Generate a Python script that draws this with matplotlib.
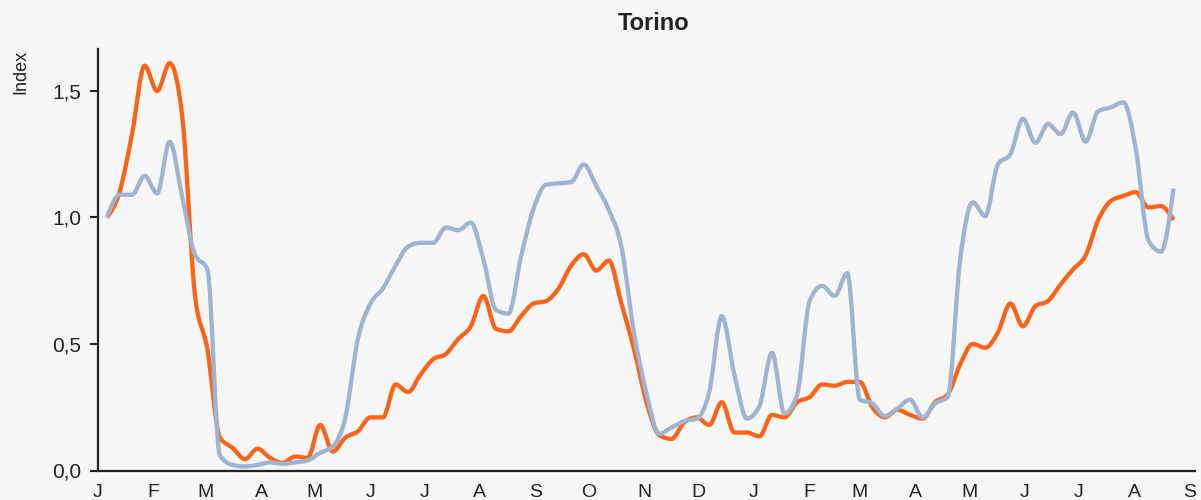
import matplotlib
matplotlib.use('Agg')
import matplotlib.pyplot as plt
import matplotlib.dates as mdates
from matplotlib.path import Path
from matplotlib.patches import PathPatch
import numpy as np
import pandas as pd

# Data (weekly index)
weeks = pd.date_range('2020-01-06', periods=86, freq='7D')

orange = [1.00, 1.10, 1.33, 1.60, 1.50, 1.61, 1.40, 0.70, 0.48, 0.13,
          0.09, 0.045, 0.086, 0.05, 0.03, 0.055, 0.05, 0.18, 0.075, 0.13,
          0.155, 0.21, 0.21, 0.34, 0.31, 0.38, 0.44, 0.46, 0.52, 0.57,
          0.69, 0.56, 0.55, 0.61, 0.66, 0.67, 0.72, 0.81, 0.855, 0.79,
          0.83, 0.66, 0.48, 0.27, 0.14, 0.125, 0.19, 0.21, 0.18, 0.27,
          0.15, 0.15, 0.135, 0.22, 0.21, 0.27, 0.29, 0.34, 0.335, 0.35,
          0.35, 0.25, 0.21, 0.24, 0.22, 0.205, 0.27, 0.30, 0.42, 0.50,
          0.485, 0.545, 0.66, 0.57, 0.65, 0.67, 0.735, 0.795, 0.85, 0.99,
          1.065, 1.085, 1.10, 1.04, 1.045, 0.99]

grey = [1.00, 1.09, 1.09, 1.165, 1.095, 1.30, 1.08, 0.855, 0.795, 0.06,
        0.022, 0.016, 0.022, 0.032, 0.026, 0.032, 0.04, 0.07, 0.095, 0.21,
        0.52, 0.66, 0.72, 0.81, 0.885, 0.90, 0.90, 0.96, 0.95, 0.98,
        0.835, 0.635, 0.62, 0.845, 1.035, 1.13, 1.135, 1.14, 1.21, 1.125,
        1.03, 0.885, 0.545, 0.305, 0.145, 0.17, 0.195, 0.205, 0.31, 0.61,
        0.38, 0.205, 0.255, 0.465, 0.225, 0.30, 0.67, 0.73, 0.69, 0.78,
        0.28, 0.265, 0.215, 0.245, 0.28, 0.21, 0.265, 0.29, 0.835, 1.06,
        1.005, 1.21, 1.25, 1.39, 1.295, 1.37, 1.33, 1.415, 1.30, 1.42,
        1.435, 1.455, 1.27, 0.91, 0.865, 1.115]

month_labels = ['J', 'F', 'M', 'A', 'M', 'J', 'J', 'A', 'S', 'O', 'N', 'D',
                'J', 'F', 'M', 'A', 'M', 'J', 'J', 'A', 'S']

bg = '#f7f7f7'
plt.rcParams['font.family'] = ['Liberation Sans', 'DejaVu Sans']


def monotone_path(x, y):
    # monotone cubic curve through the points (no overshoot), as bezier segments
    x = np.asarray(x, float)
    y = np.asarray(y, float)
    h = np.diff(x)
    s = np.diff(y) / h
    n = len(x)
    t = np.zeros(n)
    for i in range(1, n - 1):
        p = (s[i - 1] * h[i] + s[i] * h[i - 1]) / (h[i - 1] + h[i])
        t[i] = (np.sign(s[i - 1]) + np.sign(s[i])) * min(abs(s[i - 1]), abs(s[i]), 0.5 * abs(p))
    t[0] = (3 * s[0] - t[1]) / 2
    t[-1] = (3 * s[-1] - t[-2]) / 2
    verts = [(x[0], y[0])]
    codes = [Path.MOVETO]
    for i in range(n - 1):
        dx = h[i] / 3
        verts += [(x[i] + dx, y[i] + dx * t[i]), (x[i + 1] - dx, y[i + 1] - dx * t[i + 1]), (x[i + 1], y[i + 1])]
        codes += [Path.CURVE4] * 3
    return Path(verts, codes)


fig = plt.figure(figsize=(12.01, 5.0), dpi=100, facecolor=bg)
ax = fig.add_axes([0.0816, 0.059, 0.9134, 0.843])
ax.set_facecolor(bg)

xd = mdates.date2num(weeks)
for vals, col in [(orange, '#ff6418'), (grey, '#9fb3d3')]:
    ax.add_patch(PathPatch(monotone_path(xd, vals), fill=False, edgecolor=col,
                           lw=3.1, joinstyle='round', capstyle='butt'))

ax.set_xlim(pd.Timestamp('2020-01-01'), pd.Timestamp('2021-09-04'))
ax.set_ylim(0, 1.666)

ticks = pd.date_range('2020-01-01', periods=len(month_labels), freq='MS')
ax.set_xticks(ticks)
ax.set_xticklabels(month_labels)
ax.tick_params(axis='x', length=0, pad=10, labelsize=14, colors='#222222')
ax.set_yticks([0, 0.5, 1.0, 1.5])
ax.set_yticklabels(['0,0', '0,5', '1,0', '1,5'])
ax.tick_params(axis='y', length=6, width=1.5, pad=6, labelsize=15, colors='#222222')

for s in ['top', 'right']:
    ax.spines[s].set_visible(False)
for s in ['left', 'bottom']:
    ax.spines[s].set_linewidth(1.6)
    ax.spines[s].set_color('#222222')

fig.text(0.544, 0.952, 'Torino', ha='center', va='center', fontsize=17, fontweight='bold', color='#222222')
fig.text(0.017, 0.856, 'Index', ha='center', va='center', rotation=90, fontsize=13, color='#222222')

fig.savefig('out.png', dpi=100, facecolor=bg)
